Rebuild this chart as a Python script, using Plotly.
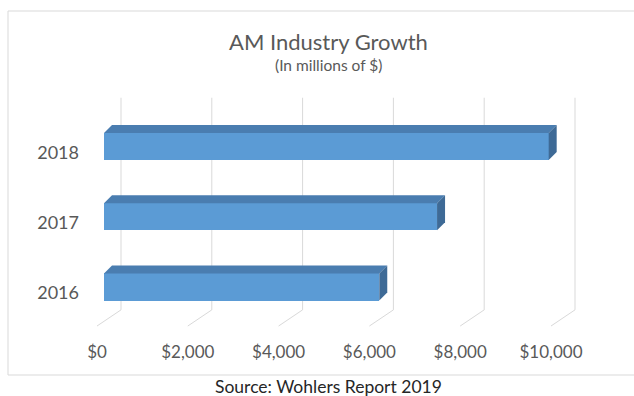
import plotly.graph_objects as go

# AM industry revenue, in millions of US dollars
years = ["2016", "2017", "2018"]
revenue = [6063, 7336, 9795]
tick_values = [0, 2000, 4000, 6000, 8000, 10000]
tick_labels = ["$0", "$2,000", "$4,000", "$6,000", "$8,000", "$10,000"]

FONT = "Lato"
TEXT_GREY = "#595959"
GRID = "#d9d9d9"
FRONT = "#5b9bd5"
TOP = "#4a7db0"
SIDE = "#3e6a96"

W, H = 634, 396
L, R, T, B = 80, 24, 90, 56
plot_w = W - L - R
plot_h = H - T - B

x_range = [-528.6, 11145.4]
y_range = [-0.669, 2.89]
px_x = plot_w / (x_range[1] - x_range[0])   # pixels per $1M
px_y = plot_h / (y_range[1] - y_range[0])   # pixels per category step

# pseudo-3D offsets (in data units)
depth_x = 8 / px_x
depth_y = 8 / px_y
wall_x = 17 / px_x      # back wall sits behind the bar fronts
floor_x = -7 / px_x     # front edge of the floor
wall_top, wall_bottom, floor_front = 2.78, -0.24, -0.47

bar_width = 0.386
bar_offset = -0.107
y_pos = list(range(len(years)))

fig = go.Figure()
fig.add_trace(go.Bar(
    x=revenue, y=y_pos, orientation="h",
    width=bar_width, offset=bar_offset,
    marker=dict(color=FRONT, line=dict(width=0)),
    hoverinfo="x+y", showlegend=False,
))
# empty trace that carries the value axis drawn along the floor edge
fig.add_trace(go.Scatter(
    x=[tick_values[0], tick_values[-1]], y=[None, None],
    xaxis="x2", yaxis="y", mode="markers",
    showlegend=False, hoverinfo="skip",
))

shapes = []
# back-wall gridlines folding onto the floor
for v in tick_values:
    shapes.append(dict(
        type="path", xref="x", yref="y", layer="below",
        path=(f"M {v + wall_x},{wall_top} L {v + wall_x},{wall_bottom} "
              f"L {v + floor_x},{floor_front}"),
        line=dict(color=GRID, width=1),
    ))

# top and end faces of each bar
for i, v in zip(y_pos, revenue):
    y0 = i + bar_offset
    y1 = y0 + bar_width
    shapes.append(dict(
        type="path", xref="x", yref="y", layer="above",
        path=(f"M 0,{y1} L {v},{y1} L {v + depth_x},{y1 + depth_y} "
              f"L {depth_x},{y1 + depth_y} Z"),
        fillcolor=TOP, line=dict(width=0),
    ))
    shapes.append(dict(
        type="path", xref="x", yref="y", layer="above",
        path=(f"M {v},{y1} L {v + depth_x},{y1 + depth_y} "
              f"L {v + depth_x},{y0 + depth_y} L {v},{y0} Z"),
        fillcolor=SIDE, line=dict(width=0),
    ))

# chart-area frame
shapes.append(dict(
    type="rect", xref="paper", yref="paper", layer="below",
    x0=(8 - L) / plot_w, x1=(650 - L) / plot_w,
    y0=(T + plot_h - 375) / plot_h, y1=(T + plot_h - 11) / plot_h,
    line=dict(color=GRID, width=1), fillcolor="rgba(0,0,0,0)",
))

def px_to_paper_x(px):
    return (px - L) / plot_w

def px_to_paper_y(py):
    return (T + plot_h - py) / plot_h

annotations = [
    dict(text="AM Industry Growth", x=px_to_paper_x(328), y=px_to_paper_y(41),
         xref="paper", yref="paper", showarrow=False, xanchor="center", yanchor="middle",
         font=dict(family=FONT, size=22, color=TEXT_GREY)),
    dict(text="(In millions of $)", x=px_to_paper_x(328), y=px_to_paper_y(65),
         xref="paper", yref="paper", showarrow=False, xanchor="center", yanchor="middle",
         font=dict(family=FONT, size=15.5, color=TEXT_GREY)),
    dict(text="Source: Wohlers Report 2019", x=px_to_paper_x(328), y=px_to_paper_y(386),
         xref="paper", yref="paper", showarrow=False, xanchor="center", yanchor="middle",
         font=dict(family=FONT, size=17.5, color="#262626")),
]

fig.update_layout(
    width=W, height=H,
    margin=dict(l=L, r=R, t=T, b=B, pad=0),
    paper_bgcolor="white", plot_bgcolor="rgba(0,0,0,0)",
    bargap=0,
    shapes=shapes,
    annotations=annotations,
    xaxis=dict(range=x_range, showgrid=False, zeroline=False, showline=False,
               showticklabels=False, ticks="", fixedrange=True),
    xaxis2=dict(range=[x_range[0] - floor_x, x_range[1] - floor_x],
                overlaying="x", anchor="y", side="bottom",
                tickmode="array", tickvals=tick_values, ticktext=tick_labels,
                showgrid=False, zeroline=False, showline=False, ticks="",
                tickfont=dict(family=FONT, size=17, color=TEXT_GREY)),
    yaxis=dict(range=y_range, tickmode="array", tickvals=y_pos, ticktext=years,
               showgrid=False, zeroline=False, showline=False, ticks="",
               tickfont=dict(family=FONT, size=18, color=TEXT_GREY)),
)

fig.write_html("out.html")
